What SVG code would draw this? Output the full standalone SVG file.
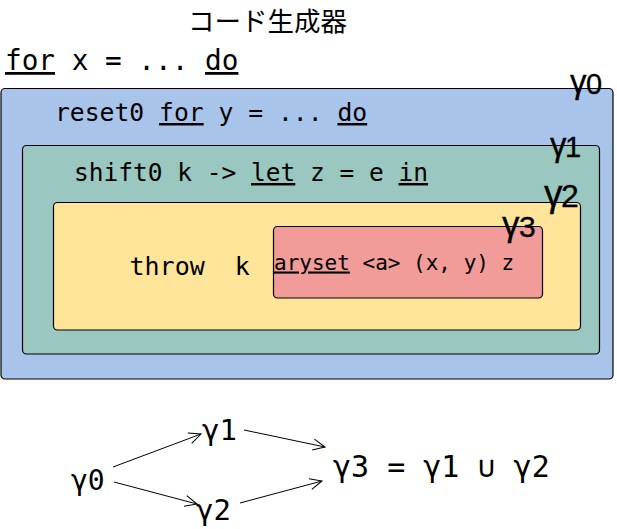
<svg xmlns="http://www.w3.org/2000/svg" width="617" height="529" viewBox="0 0 617 529">
  <style>
    .box { stroke: #000; stroke-width: 1.2; }
    .mono { font-family: "DejaVu Sans Mono", "Liberation Mono", monospace; fill: #000; white-space: pre; }
    .g { font-family: "Liberation Sans", Arial, sans-serif; fill: #000; stroke: #000; stroke-width: 0.3; }
    .u { text-decoration: underline; }
    .conn { stroke: #000; stroke-width: 1; fill: none; marker-end: url(#arr); }
  </style>
  <defs>
    <marker id="arr" markerUnits="userSpaceOnUse" markerWidth="16" markerHeight="14" refX="13" refY="7" orient="auto">
      <path d="M1,1.5 L13,7 L1,12.5" fill="none" stroke="#000" stroke-width="1"/>
    </marker>
  </defs>
  <rect width="617" height="529" fill="#fff"/>

  <g id="title">
    <text x="188" y="31" font-family="'Noto Sans CJK JP', 'Noto Sans CJK SC', sans-serif" font-size="26.5" fill="#000">コード生成器</text>
  </g>

  <g id="outer-loop">
    <text class="mono" x="5" y="70" font-size="27.7"><tspan class="u">for</tspan> x = ... <tspan class="u">do</tspan></text>
  </g>

  <g id="gamma0-box">
    <rect class="box" x="1" y="88.5" width="612" height="290.5" rx="4" fill="#A9C4EB"/>
    <text class="mono" x="55" y="121" font-size="24.7">reset0 <tspan class="u">for</tspan> y = ... <tspan class="u">do</tspan></text>
    <text class="g"><tspan x="570" y="93" font-size="33">γ</tspan><tspan x="586" y="94" font-size="29">0</tspan></text>
  </g>

  <g id="gamma1-box">
    <rect class="box" x="22.5" y="145.5" width="577" height="208.5" rx="4" fill="#9AC7BF"/>
    <text class="mono" x="74" y="181" font-size="24.5">shift0 k -&gt; <tspan class="u">let</tspan> z = e <tspan class="u">in</tspan></text>
    <text class="g"><tspan x="550" y="156" font-size="33">γ</tspan><tspan x="565" y="157" font-size="29">1</tspan></text>
  </g>

  <g id="gamma2-box">
    <rect class="box" x="53.5" y="202.5" width="527" height="127.5" rx="4" fill="#FFE599"/>
    <text class="mono" x="129.5" y="275" font-size="25" xml:space="preserve">throw  k</text>
    <text class="g"><tspan x="544" y="206" font-size="37">γ</tspan><tspan x="561" y="207" font-size="32">2</tspan></text>
  </g>

  <g id="gamma3-box">
    <rect class="box" x="273.5" y="226.5" width="269" height="71.5" rx="4" fill="#F19C99"/>
    <text class="mono" x="274" y="269.5" font-size="21"><tspan class="u">aryset</tspan> &lt;a&gt; (x, y) z</text>
    <text class="g"><tspan x="502" y="236" font-size="35">γ</tspan><tspan x="519" y="237" font-size="30">3</tspan></text>
  </g>

  <g id="node-g0"><text class="mono" x="71" y="490" font-size="28">γ0</text></g>
  <g id="node-g1"><text class="mono" x="202" y="440" font-size="29">γ1</text></g>
  <g id="node-g2"><text class="mono" x="196" y="520" font-size="29">γ2</text></g>
  <g id="node-g3"><text class="mono" x="333" y="477" font-size="30">γ3 = γ1 ∪ γ2</text></g>

  <g id="connectors">
    <line class="conn" x1="113" y1="467" x2="201" y2="434"/>
    <line class="conn" x1="114" y1="482" x2="197" y2="504"/>
    <line class="conn" x1="244" y1="430" x2="325" y2="447"/>
    <line class="conn" x1="240" y1="503" x2="322" y2="481"/>
  </g>
</svg>
